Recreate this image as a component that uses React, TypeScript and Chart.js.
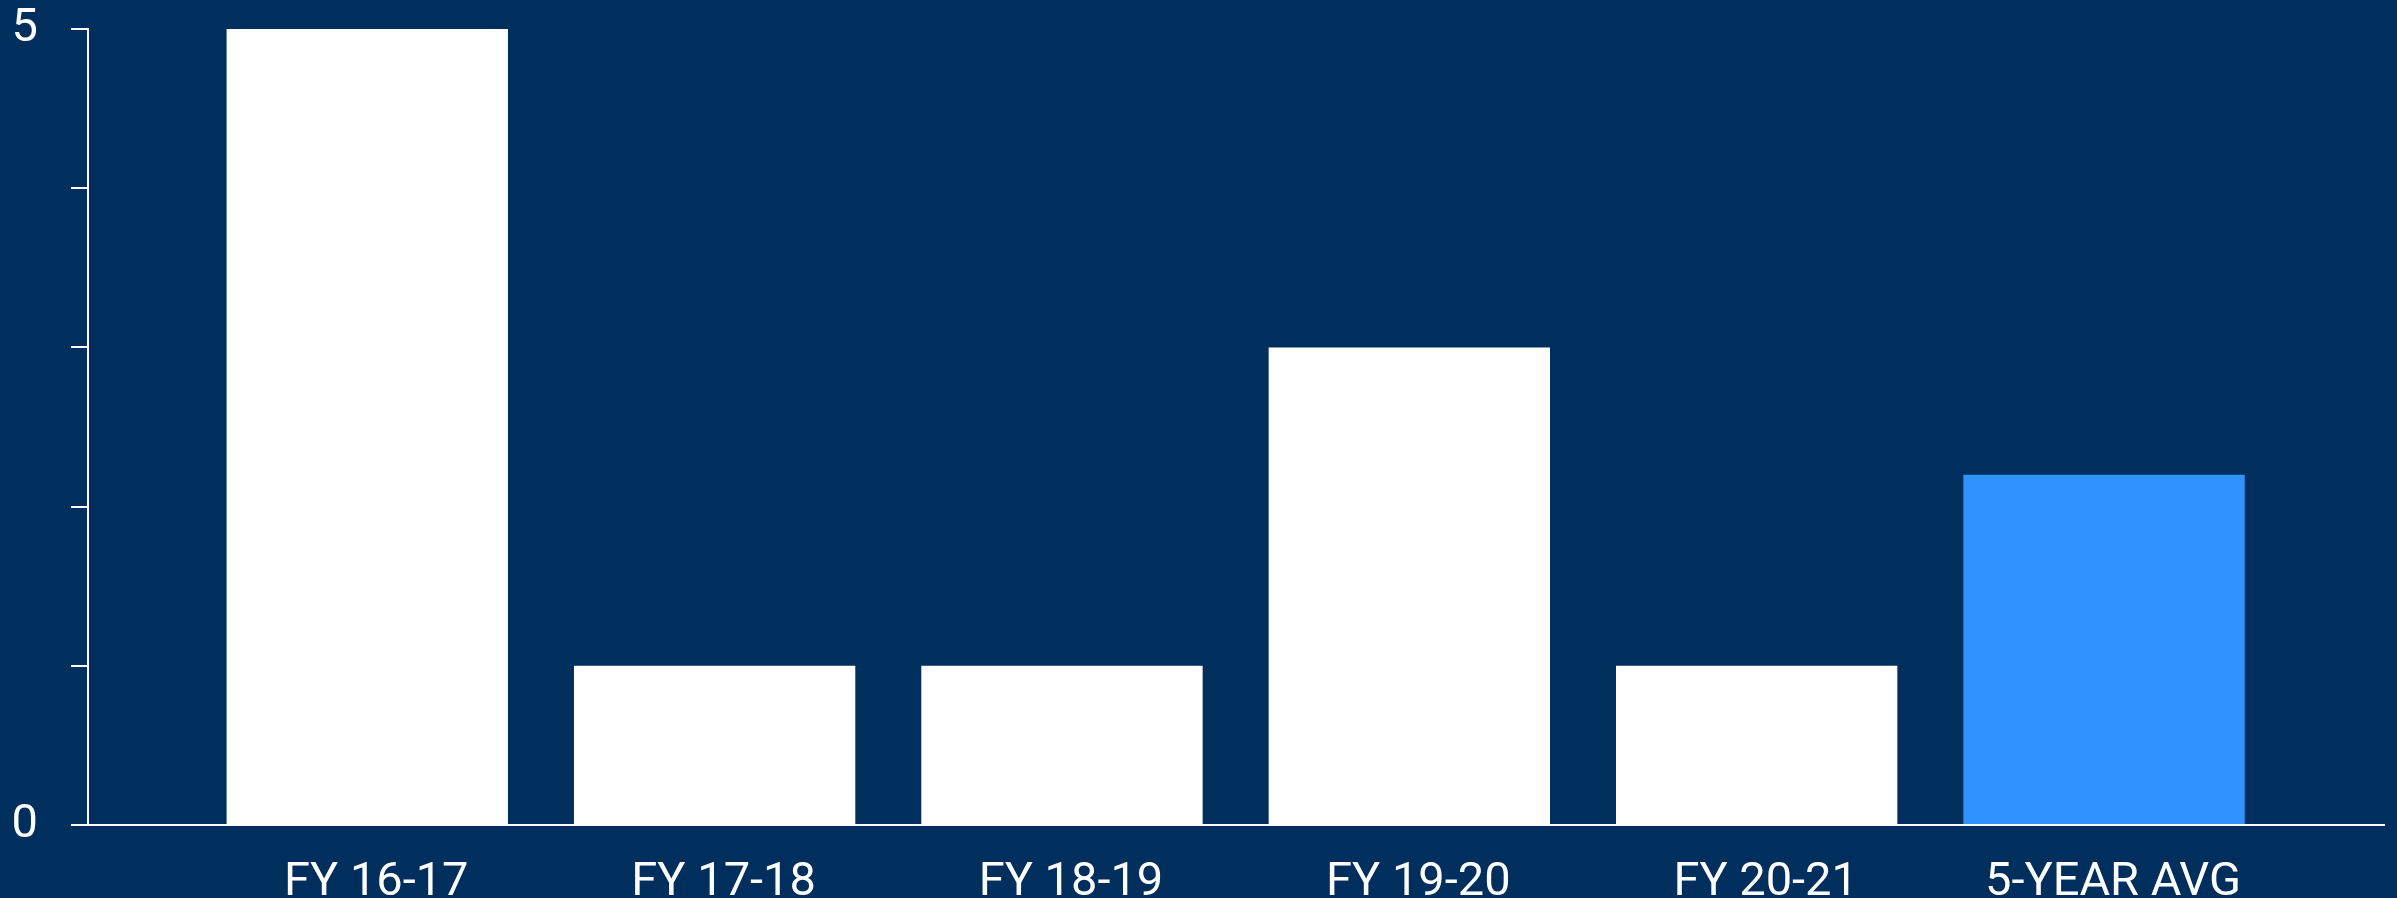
import React, { useEffect, useRef } from "react";
import { Chart, registerables } from "chart.js";

Chart.register(...registerables);

const categories = ["FY 16-17", "FY 17-18", "FY 18-19", "FY 19-20", "FY 20-21", "5-YEAR AVG"];
const values = [5, 1, 1, 3, 1, 2.2];
const barColors = ["#ffffff", "#ffffff", "#ffffff", "#ffffff", "#ffffff", "#3094ff"];
const yShownLabels = [0, 5];

const BG = "#002e5d";
const FONT = "Roboto";

export default function App() {
  const canvasRef = useRef<HTMLCanvasElement | null>(null);

  useEffect(() => {
    if (!canvasRef.current) return;
    const chart = new Chart(canvasRef.current, {
      type: "bar",
      data: {
        datasets: [
          {
            data: values.map((v, i) => ({ x: i, y: v })),
            backgroundColor: barColors,
            borderWidth: 0,
            barPercentage: 0.9,
            categoryPercentage: 0.9,
          },
        ],
      },
      options: {
        animation: false,
        responsive: true,
        maintainAspectRatio: false,
        layout: { padding: { top: 29, right: 13, left: 0, bottom: 0 } },
        plugins: { legend: { display: false }, tooltip: { enabled: false } },
        scales: {
          x: {
            type: "linear",
            offset: false,
            min: -0.804,
            max: 5.806,
            afterBuildTicks: (scale: any) => {
              scale.ticks = categories.map((_, i) => ({ value: i }));
            },
            afterFit: (scale: any) => {
              scale.height = 73;
              scale.paddingLeft = 0;
              scale.paddingRight = 0;
            },
            grid: { display: false, drawTicks: false },
            border: { display: true, color: "#ffffff", width: 2 },
            ticks: {
              autoSkip: false,
              maxRotation: 0,
              minRotation: 0,
              padding: 30,
              labelOffset: 9,
              color: "#ffffff",
              font: { family: FONT, size: 47 },
              callback: (v: any) => categories[Math.round(Number(v))] ?? "",
            },
          },
          y: {
            min: 0,
            max: 5,
            afterFit: (scale: any) => {
              scale.width = 88;
              scale.paddingTop = 0;
              scale.paddingBottom = 0;
            },
            grid: {
              display: true,
              drawOnChartArea: false,
              drawTicks: true,
              tickLength: 17,
              color: "#ffffff",
              lineWidth: 2,
            },
            border: { display: true, color: "#ffffff", width: 2 },
            ticks: {
              stepSize: 1,
              padding: 33,
              color: "#ffffff",
              font: { family: FONT, size: 47 },
              callback: (v: any) => (yShownLabels.includes(Number(v)) ? String(v) : ""),
            },
          },
        },
      },
    });
    return () => chart.destroy();
  }, []);

  return (
    <div style={{ position: "fixed", left: 0, top: 0, width: 2397, height: 898, background: BG }}>
      <canvas ref={canvasRef} />
    </div>
  );
}
